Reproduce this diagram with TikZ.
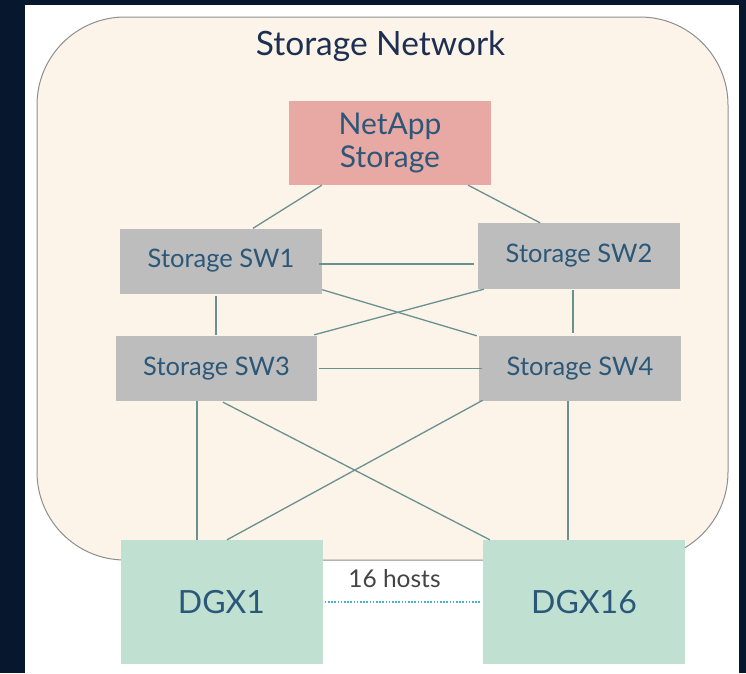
\documentclass[tikz,border=0pt]{standalone}
\usepackage{fontspec}
\setmainfont{Lato}
\usetikzlibrary{calc}
\definecolor{bgdark}{HTML}{06172E}
\definecolor{cream}{HTML}{FCF4E8}
\definecolor{framegray}{HTML}{8F8F8F}
\definecolor{netred}{HTML}{E8A9A5}
\definecolor{swgray}{HTML}{BDBDBD}
\definecolor{dgxgreen}{HTML}{C0E0D2}
\definecolor{txtblue}{HTML}{2B5779}
\definecolor{titleblue}{HTML}{1D2F52}
\definecolor{linkc}{HTML}{6A9090}
\definecolor{dotc}{HTML}{4AAFCF}
\definecolor{hostgray}{HTML}{444444}
\begin{document}
\begin{tikzpicture}[x=1pt,y=-1pt,
  box/.style={draw=none,inner sep=0pt,align=center,text=txtblue},
  swbox/.style={box,fill=swgray,minimum width=202pt,minimum height=65pt,font=\fontsize{25.5}{30}\selectfont},
  dgxbox/.style={box,fill=dgxgreen,minimum width=202pt,minimum height=124pt,font=\fontsize{32}{38}\selectfont},
  link/.style={draw=linkc,line width=1.3pt}]
\useasboundingbox (0,0) rectangle (746,673);
\fill[bgdark] (0,0) rectangle (746,673);
\fill[white] (25,5) rectangle (739,673);
\draw[fill=cream,draw=framegray,line width=1pt,rounded corners=88pt] (37,17) rectangle (728,560);
\node[text=titleblue,font=\fontsize{33.5}{38}\selectfont] (title) at (380.5,46) {Storage Network};
\node[box,fill=netred,minimum width=202pt,minimum height=84pt,font=\fontsize{30}{33}\selectfont] (netapp) at (390,143) {NetApp\\Storage};
\node[swbox] (sw1) at (221,261) {Storage SW1};
\node[swbox,minimum height=66pt] (sw2) at (579,256) {Storage SW2};
\node[swbox,minimum width=201pt] (sw3) at (216.5,368.5) {Storage SW3};
\node[swbox] (sw4) at (580,368.5) {Storage SW4};
\node[dgxbox] (dgx1) at (221.5,602) {DGX1};
\node[dgxbox] (dgx16) at (584,602) {DGX16};
\node[text=hostgray,font=\fontsize{24.5}{28}\selectfont] (hosts) at (394.5,579) {16 hosts};
% links
\draw[link] ([shift={(33,0)}]netapp.south west) -- ([shift={(32,0)}]sw1.north);
\draw[link] ([shift={(-23,0)}]netapp.south east) -- ([shift={(-39,0)}]sw2.north);
\draw[link] ([shift={(-3,3)}]sw1.east) -- ([shift={(-4,8)}]sw2.west);
\draw[link] ([shift={(0,-4)}]sw1.south east) -- ([shift={(-2,0)}]sw4.north west);
\draw[link] ([shift={(6,0)}]sw2.south west) -- ([shift={(-3,-1)}]sw3.north east);
\draw[link] ([shift={(-5,2)}]sw1.south) -- ([shift={(-0.5,-1)}]sw3.north);
\draw[link] ([shift={(-6,1)}]sw2.south) -- ([shift={(-7,-3)}]sw4.north);
\draw[link] ([shift={(2,0)}]sw3.east) -- ([shift={(3,0)}]sw4.west);
\draw[link] ([shift={(-19.5,0)}]sw3.south) -- ([shift={(-24.5,0)}]dgx1.north);
\draw[link] ([shift={(6.5,1)}]sw3.south) -- ([shift={(7,0)}]dgx16.north west);
\draw[link] ([shift={(4,-1)}]sw4.south west) -- ([shift={(5.5,0)}]dgx1.north);
\draw[link] ([shift={(-12,0)}]sw4.south) -- ([shift={(-16,0)}]dgx16.north);
\draw[draw=dotc,line width=1.6pt,dash pattern=on 1.6pt off 1.6pt] ([shift={(2,0)}]dgx1.east) -- ([shift={(-3,0)}]dgx16.west);
\end{tikzpicture}
\end{document}
